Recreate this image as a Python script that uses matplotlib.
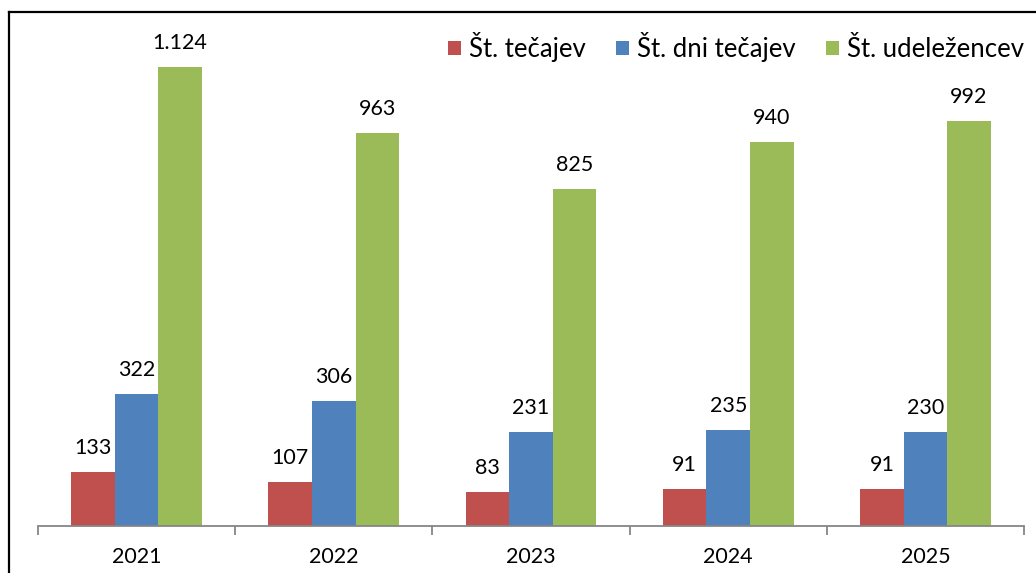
import matplotlib
import matplotlib.pyplot as plt
from matplotlib.lines import Line2D
import numpy as np

matplotlib.rc('font', family=['Lato', 'DejaVu Sans'], size=15.5)

years = ['2021', '2022', '2023', '2024', '2025']
st_tecajev = [133, 107, 83, 91, 91]
st_dni_tecajev = [322, 306, 231, 235, 230]
st_udelezencev = [1124, 963, 825, 940, 992]

series = [
    ('Št. tečajev', st_tecajev, '#C0504D'),
    ('Št. dni tečajev', st_dni_tecajev, '#4F81BD'),
    ('Št. udeležencev', st_udelezencev, '#9BBB59'),
]

fig = plt.figure(figsize=(10.36, 5.73), dpi=100)
ax = fig.add_axes([38 / 1036, 47 / 573, 986 / 1036, 514 / 573])

x = np.arange(len(years))
w = 0.221
for i, (name, vals, col) in enumerate(series):
    bars = ax.bar(x + (i - 1) * w, vals, w, color=col, label=name)
    for b, v in zip(bars, vals):
        ax.annotate(f'{v:,}'.replace(',', '.'),
                    (b.get_x() + b.get_width() / 2, b.get_height()),
                    xytext=(0, 17.3), textcoords='offset points',
                    ha='center', va='center')

ax.set_xlim(-0.5, len(years) - 0.5)
ax.set_ylim(0, 514 / 0.4084)
ax.set_yticks([])
ax.set_xticks(x)
ax.set_xticklabels(years)
ax.set_xticks(np.arange(len(years) + 1) - 0.5, minor=True)
ax.tick_params(axis='x', which='major', length=0, pad=15)
ax.tick_params(axis='x', which='minor', length=6.5, width=1.3, color='#868686')
for s in ['left', 'right', 'top']:
    ax.spines[s].set_visible(False)
ax.spines['bottom'].set_color('#868686')
ax.spines['bottom'].set_linewidth(1.3)

ax.legend(loc='center right', bbox_to_anchor=(1024 / 1036, 1 - 47 / 573),
          bbox_transform=fig.transFigure, ncol=3, frameon=False, fontsize=18.5,
          handlelength=0.5, handleheight=0.5, handletextpad=0.3,
          columnspacing=1.2, borderaxespad=0, borderpad=0)

# outer frame (top and left edges)
fig.add_artist(Line2D([9 / 1036, 1], [1 - 12 / 573, 1 - 12 / 573], color='black', lw=1.6))
fig.add_artist(Line2D([9 / 1036, 9 / 1036], [0, 1 - 12 / 573], color='black', lw=1.6))

plt.savefig('out.png')
